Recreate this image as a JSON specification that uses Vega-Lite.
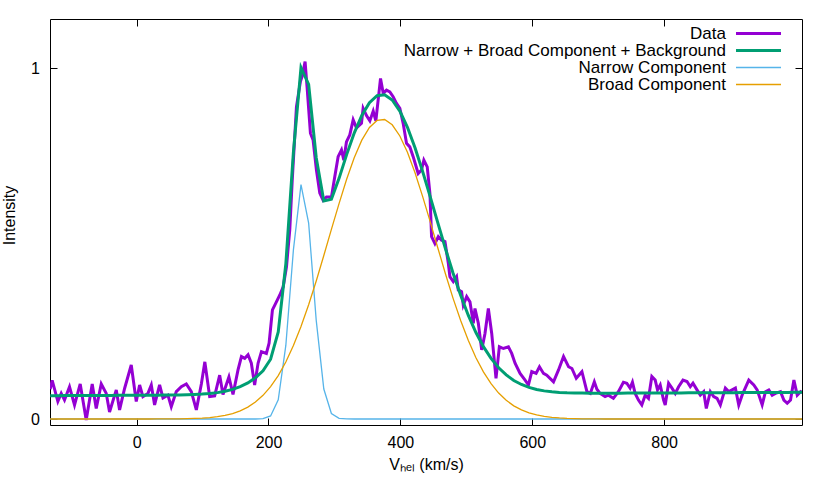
{
  "$schema": "https://vega.github.io/schema/vega-lite/v6.json",
  "width": 752,
  "height": 406,
  "autosize": "none",
  "padding": {"left": 50, "top": 19, "right": 28, "bottom": 73},
  "config": {
    "view": {"stroke": "black", "strokeWidth": 1},
    "font": "Liberation Sans",
    "axis": {
      "grid": false, "domain": false, "tickColor": "black", "tickSize": -7, "tickWidth": 1,
      "labelFont": "Liberation Sans", "labelFontSize": 16, "labelColor": "black",
      "titleFont": "Liberation Sans", "titleFontSize": 16, "titleFontWeight": "normal", "titleColor": "black"
    },
    "legend": {
      "title": null, "orient": "none", "legendX": 700, "legendY": 6, "padding": 0,
      "symbolType": "M-3,0H3", "symbolSize": 225, "labelAlign": "right", "labelOffset": -41,
      "labelLimit": 600, "rowPadding": -1,
      "labelFont": "Liberation Sans", "labelFontSize": 17, "labelColor": "black"
    }
  },
  "datasets": {
    "obs": [
      {"v":-131,"data":0.085},{"v":-128,"data":0.11},{"v":-119.4,"data":0.05},{"v":-114.3,"data":0.073},{"v":-109.3,"data":0.054},{"v":-101.7,"data":0.092},{"v":-94.1,"data":0.04},{"v":-85.5,"data":0.1},{"v":-76.4,"data":-0.003},{"v":-67.3,"data":0.1},{"v":-61.2,"data":0.03},{"v":-53.6,"data":0.1},{"v":-46,"data":0.073},{"v":-41,"data":0.02},{"v":-30.8,"data":0.083},{"v":-25.8,"data":0.026},{"v":-18.2,"data":0.087},{"v":-8.1,"data":0.154},{"v":-0.5,"data":0.05},{"v":4.6,"data":0.097},{"v":9.6,"data":0.064},{"v":17.2,"data":0.073},{"v":22.3,"data":0.097},{"v":27.3,"data":0.04},{"v":34.9,"data":0.097},{"v":40,"data":0.06},{"v":47.5,"data":0.068},{"v":52.6,"data":0.035},{"v":60.2,"data":0.078},{"v":67.8,"data":0.092},{"v":75.4,"data":0.1},{"v":83,"data":0.078},{"v":90.6,"data":0.026},{"v":98.2,"data":0.1},{"v":103.5,"data":0.163},{"v":110.8,"data":0.064},{"v":118.4,"data":0.066},{"v":126,"data":0.125},{"v":131,"data":0.07},{"v":140,"data":0.12},{"v":146.2,"data":0.07},{"v":153.8,"data":0.14},{"v":159,"data":0.178},{"v":164,"data":0.173},{"v":169,"data":0.183},{"v":174,"data":0.159},{"v":179,"data":0.097},{"v":184.2,"data":0.159},{"v":189.3,"data":0.192},{"v":196.8,"data":0.187},{"v":200.9,"data":0.216},{"v":206,"data":0.311},{"v":212,"data":0.334},{"v":217,"data":0.353},{"v":222.3,"data":0.377},{"v":227.3,"data":0.434},{"v":232.3,"data":0.54},{"v":236,"data":0.68},{"v":242.4,"data":0.89},{"v":248.4,"data":0.962},{"v":251.5,"data":0.98},{"v":255.5,"data":1.019},{"v":258.5,"data":0.947},{"v":263.6,"data":0.815},{"v":267.6,"data":0.796},{"v":272.7,"data":0.71},{"v":277.8,"data":0.644},{"v":282.8,"data":0.624},{"v":287.9,"data":0.633},{"v":295.5,"data":0.633},{"v":300.5,"data":0.691},{"v":305.6,"data":0.748},{"v":310.7,"data":0.767},{"v":314.2,"data":0.738},{"v":318.2,"data":0.79},{"v":323.3,"data":0.81},{"v":328.4,"data":0.853},{"v":333.4,"data":0.83},{"v":341,"data":0.843},{"v":343.5,"data":0.886},{"v":348.6,"data":0.865},{"v":353.7,"data":0.85},{"v":358.8,"data":0.878},{"v":362.8,"data":0.85},{"v":369.9,"data":0.971},{"v":374,"data":0.929},{"v":379,"data":0.938},{"v":384,"data":0.933},{"v":389,"data":0.919},{"v":394.1,"data":0.9},{"v":399.2,"data":0.886},{"v":404.2,"data":0.843},{"v":409.3,"data":0.786},{"v":414.3,"data":0.776},{"v":419.4,"data":0.748},{"v":427,"data":0.7},{"v":432,"data":0.71},{"v":435.6,"data":0.738},{"v":440.7,"data":0.719},{"v":444.8,"data":0.643},{"v":447.3,"data":0.52},{"v":452.4,"data":0.5},{"v":457.5,"data":0.52},{"v":462.5,"data":0.51},{"v":467.6,"data":0.506},{"v":472.7,"data":0.444},{"v":475.1,"data":0.406},{"v":480.2,"data":0.392},{"v":485.2,"data":0.406},{"v":487.8,"data":0.368},{"v":492.8,"data":0.363},{"v":495.4,"data":0.325},{"v":500.5,"data":0.349},{"v":505.5,"data":0.334},{"v":510.6,"data":0.273},{"v":513.1,"data":0.315},{"v":518.2,"data":0.273},{"v":523.3,"data":0.197},{"v":528.3,"data":0.244},{"v":533.4,"data":0.315},{"v":538.5,"data":0.244},{"v":545,"data":0.116},{"v":550.1,"data":0.206},{"v":556.2,"data":0.201},{"v":563.8,"data":0.206},{"v":568.8,"data":0.187},{"v":573.9,"data":0.159},{"v":581.5,"data":0.13},{"v":589.1,"data":0.111},{"v":594.2,"data":0.097},{"v":599.2,"data":0.135},{"v":605.8,"data":0.13},{"v":610.9,"data":0.149},{"v":617,"data":0.13},{"v":622,"data":0.125},{"v":632.2,"data":0.106},{"v":639.8,"data":0.14},{"v":647.4,"data":0.178},{"v":655,"data":0.149},{"v":660.1,"data":0.144},{"v":666.7,"data":0.116},{"v":675.3,"data":0.135},{"v":682.9,"data":0.078},{"v":688,"data":0.073},{"v":694.1,"data":0.106},{"v":698,"data":0.085},{"v":702.8,"data":0.073},{"v":710.4,"data":0.064},{"v":715.4,"data":0.068},{"v":723,"data":0.059},{"v":730.6,"data":0.078},{"v":738.2,"data":0.105},{"v":743.3,"data":0.102},{"v":748.3,"data":0.088},{"v":751.9,"data":0.105},{"v":756,"data":0.073},{"v":761,"data":0.054},{"v":766.1,"data":0.04},{"v":771.2,"data":0.068},{"v":776.2,"data":0.059},{"v":781.3,"data":0.121},{"v":786.4,"data":0.111},{"v":789.9,"data":0.083},{"v":794,"data":0.097},{"v":799.1,"data":0.054},{"v":801.6,"data":0.04},{"v":806.7,"data":0.102},{"v":811.8,"data":0.088},{"v":816.8,"data":0.073},{"v":821.9,"data":0.092},{"v":828.5,"data":0.111},{"v":834.6,"data":0.107},{"v":839.6,"data":0.092},{"v":843.7,"data":0.102},{"v":849.8,"data":0.083},{"v":854.8,"data":0.068},{"v":859.9,"data":0.078},{"v":863.9,"data":0.03},{"v":870,"data":0.078},{"v":875.1,"data":0.064},{"v":880.2,"data":0.059},{"v":885.2,"data":0.04},{"v":892.8,"data":0.088},{"v":897.9,"data":0.078},{"v":903,"data":0.083},{"v":908,"data":0.088},{"v":913.1,"data":0.04},{"v":918.2,"data":0.068},{"v":928.3,"data":0.111},{"v":935.9,"data":0.097},{"v":941,"data":0.083},{"v":948.6,"data":0.04},{"v":953.6,"data":0.078},{"v":958.7,"data":0.083},{"v":963.8,"data":0.068},{"v":968.8,"data":0.073},{"v":976.4,"data":0.078},{"v":981.5,"data":0.054},{"v":986.6,"data":0.045},{"v":991.6,"data":0.054},{"v":996.7,"data":0.111},{"v":1001.8,"data":0.068},{"v":1006.8,"data":0.078},{"v":1009,"data":0.075}
    ],
    "model": [
      {"v":-131,"fit":0.0665,"narrow":0,"broad":0},{"v":-119.5,"fit":0.0666,"narrow":0,"broad":0},{"v":-108,"fit":0.0667,"narrow":0,"broad":0},{"v":-96.4,"fit":0.0668,"narrow":0,"broad":0},{"v":-84.9,"fit":0.0669,"narrow":0,"broad":0},{"v":-73.4,"fit":0.067,"narrow":0,"broad":0},{"v":-61.9,"fit":0.0671,"narrow":0,"broad":0},{"v":-50.3,"fit":0.0672,"narrow":0,"broad":0},{"v":-38.8,"fit":0.0673,"narrow":0,"broad":0},{"v":-27.3,"fit":0.0674,"narrow":0,"broad":0},{"v":-15.8,"fit":0.0675,"narrow":0,"broad":0},{"v":-4.2,"fit":0.0676,"narrow":0,"broad":0},{"v":7.3,"fit":0.0677,"narrow":0,"broad":0},{"v":18.8,"fit":0.0677,"narrow":0,"broad":0},{"v":30.4,"fit":0.0679,"narrow":0,"broad":0.0001},{"v":41.9,"fit":0.0681,"narrow":0,"broad":0.0002},{"v":53.4,"fit":0.0683,"narrow":0,"broad":0.0003},{"v":64.9,"fit":0.0686,"narrow":0,"broad":0.0005},{"v":76.5,"fit":0.0691,"narrow":0,"broad":0.0009},{"v":88,"fit":0.0699,"narrow":0,"broad":0.0016},{"v":99.5,"fit":0.071,"narrow":0,"broad":0.0026},{"v":111,"fit":0.0727,"narrow":0,"broad":0.0042},{"v":122.6,"fit":0.0752,"narrow":0,"broad":0.0066},{"v":134.1,"fit":0.079,"narrow":0,"broad":0.0103},{"v":145.6,"fit":0.0844,"narrow":0,"broad":0.0156},{"v":157.1,"fit":0.0921,"narrow":0,"broad":0.0232},{"v":168.7,"fit":0.1028,"narrow":0,"broad":0.0338},{"v":180.2,"fit":0.1174,"narrow":0,"broad":0.0483},{"v":191.7,"fit":0.1375,"narrow":0.0008,"broad":0.0675},{"v":203.2,"fit":0.1704,"narrow":0.0087,"broad":0.0924},{"v":214.8,"fit":0.2483,"narrow":0.055,"broad":0.1239},{"v":226.3,"fit":0.4419,"narrow":0.2097,"broad":0.1627},{"v":237.8,"fit":0.7612,"narrow":0.4822,"broad":0.2094},{"v":249.3,"fit":1.0019,"narrow":0.6684,"broad":0.2638},{"v":260.9,"fit":0.9541,"narrow":0.5586,"broad":0.3257},{"v":272.4,"fit":0.745,"narrow":0.2814,"broad":0.3937},{"v":283.9,"fit":0.6217,"narrow":0.0855,"broad":0.4662},{"v":295.4,"fit":0.6266,"narrow":0.0157,"broad":0.5408},{"v":307,"fit":0.6862,"narrow":0.0017,"broad":0.6143},{"v":318.5,"fit":0.7539,"narrow":0.0001,"broad":0.6836},{"v":330,"fit":0.8153,"narrow":0,"broad":0.745},{"v":341.5,"fit":0.8655,"narrow":0,"broad":0.7951},{"v":353.1,"fit":0.9018,"narrow":0,"broad":0.8313},{"v":364.6,"fit":0.9219,"narrow":0,"broad":0.8513},{"v":376.1,"fit":0.9246,"narrow":0,"broad":0.8539},{"v":387.6,"fit":0.9097,"narrow":0,"broad":0.8389},{"v":399.2,"fit":0.878,"narrow":0,"broad":0.8071},{"v":410.7,"fit":0.8317,"narrow":0,"broad":0.7607},{"v":422.2,"fit":0.7733,"narrow":0,"broad":0.7022},{"v":433.7,"fit":0.706,"narrow":0,"broad":0.6348},{"v":445.3,"fit":0.6335,"narrow":0,"broad":0.5622},{"v":456.8,"fit":0.5591,"narrow":0,"broad":0.4877},{"v":468.3,"fit":0.4858,"narrow":0,"broad":0.4143},{"v":479.8,"fit":0.4163,"narrow":0,"broad":0.3447},{"v":491.4,"fit":0.3527,"narrow":0,"broad":0.281},{"v":502.9,"fit":0.2961,"narrow":0,"broad":0.2243},{"v":514.4,"fit":0.2473,"narrow":0,"broad":0.1754},{"v":525.9,"fit":0.2063,"narrow":0,"broad":0.1343},{"v":537.5,"fit":0.1728,"narrow":0,"broad":0.1007},{"v":549,"fit":0.1462,"narrow":0,"broad":0.074},{"v":560.5,"fit":0.1256,"narrow":0,"broad":0.0533},{"v":572,"fit":0.1099,"narrow":0,"broad":0.0375},{"v":583.6,"fit":0.0984,"narrow":0,"broad":0.0259},{"v":595.1,"fit":0.0901,"narrow":0,"broad":0.0175},{"v":606.6,"fit":0.0842,"narrow":0,"broad":0.0116},{"v":618.1,"fit":0.0802,"narrow":0,"broad":0.0075},{"v":629.7,"fit":0.0776,"narrow":0,"broad":0.0048},{"v":641.2,"fit":0.0759,"narrow":0,"broad":0.003},{"v":652.7,"fit":0.0748,"narrow":0,"broad":0.0018},{"v":664.2,"fit":0.0742,"narrow":0,"broad":0.0011},{"v":675.8,"fit":0.0738,"narrow":0,"broad":0.0006},{"v":687.3,"fit":0.0736,"narrow":0,"broad":0.0003},{"v":698.8,"fit":0.0735,"narrow":0,"broad":0.0001},{"v":710.3,"fit":0.0735,"narrow":0,"broad":0},{"v":721.9,"fit":0.0736,"narrow":0,"broad":0},{"v":733.4,"fit":0.0737,"narrow":0,"broad":0},{"v":744.9,"fit":0.0738,"narrow":0,"broad":0},{"v":756.4,"fit":0.0739,"narrow":0,"broad":0},{"v":768,"fit":0.074,"narrow":0,"broad":0},{"v":779.5,"fit":0.0741,"narrow":0,"broad":0},{"v":791,"fit":0.0742,"narrow":0,"broad":0},{"v":802.5,"fit":0.0743,"narrow":0,"broad":0},{"v":814.1,"fit":0.0744,"narrow":0,"broad":0},{"v":825.6,"fit":0.0745,"narrow":0,"broad":0},{"v":837.1,"fit":0.0746,"narrow":0,"broad":0},{"v":848.6,"fit":0.0747,"narrow":0,"broad":0},{"v":860.2,"fit":0.0748,"narrow":0,"broad":0},{"v":871.7,"fit":0.0749,"narrow":0,"broad":0},{"v":883.2,"fit":0.075,"narrow":0,"broad":0},{"v":894.7,"fit":0.0751,"narrow":0,"broad":0},{"v":906.3,"fit":0.0752,"narrow":0,"broad":0},{"v":917.8,"fit":0.0753,"narrow":0,"broad":0},{"v":929.3,"fit":0.0754,"narrow":0,"broad":0},{"v":940.8,"fit":0.0755,"narrow":0,"broad":0},{"v":952.4,"fit":0.0756,"narrow":0,"broad":0},{"v":963.9,"fit":0.0757,"narrow":0,"broad":0},{"v":975.4,"fit":0.0758,"narrow":0,"broad":0},{"v":986.9,"fit":0.0759,"narrow":0,"broad":0},{"v":998.5,"fit":0.076,"narrow":0,"broad":0},{"v":1009,"fit":0.0761,"narrow":0,"broad":0}
    ]
  },
  "layer": [
    {
      "data": {"name": "obs"},
      "transform": [{"fold": ["data"], "as": ["s", "y"]}],
      "mark": {"type": "line", "clip": true, "strokeWidth": 3},
      "encoding": {
        "x": {"field": "v", "type": "quantitative", "scale": {"domain": [-131.3, 1009], "nice": false, "zero": false},
          "axis": {"orient": "bottom", "values": [0, 200, 400, 600, 800], "title": "Vₕₑₗ (km/s)", "labelPadding": 16, "titlePadding": 6}},
        "y": {"field": "y", "type": "quantitative", "scale": {"domain": [-0.0171, 1.1406], "nice": false, "zero": false},
          "axis": {"orient": "left", "values": [0, 1], "format": "d", "title": "Intensity", "labelPadding": 17.5, "titleX": -33, "titleY": 196}},
        "color": {"field": "s", "type": "nominal",
          "scale": {"domain": ["data", "fit", "narrow", "broad"], "range": ["#9400d3", "#009e73", "#56b4e9", "#e69f00"]},
          "legend": {
            "labelExpr": "datum.label == 'data' ? 'Data' : datum.label == 'fit' ? 'Narrow + Broad Component + Background' : datum.label == 'narrow' ? 'Narrow Component' : 'Broad Component'",
            "encode": {"symbols": {"update": {"fill": {"value": "transparent"}, "strokeWidth": {"signal": "datum.value == 'data' || datum.value == 'fit' ? 3 : 1.3"}}}}
          }}
      }
    },
    {
      "data": {"name": "model"},
      "transform": [{"fold": ["fit"], "as": ["s", "y"]}],
      "mark": {"type": "line", "clip": true, "strokeWidth": 3},
      "encoding": {
        "x": {"field": "v", "type": "quantitative", "axis": null},
        "y": {"field": "y", "type": "quantitative", "axis": null},
        "color": {"field": "s", "type": "nominal"}
      }
    },
    {
      "data": {"name": "model"},
      "transform": [{"fold": ["narrow", "broad"], "as": ["s", "y"]}],
      "mark": {"type": "line", "clip": true, "strokeWidth": 1.3},
      "encoding": {
        "x": {"field": "v", "type": "quantitative",
          "axis": {"orient": "top", "values": [0, 200, 400, 600, 800], "labels": false, "title": null}},
        "y": {"field": "y", "type": "quantitative",
          "axis": {"orient": "right", "values": [0, 1], "labels": false, "title": null}},
        "color": {"field": "s", "type": "nominal"}
      }
    }
  ]
}
